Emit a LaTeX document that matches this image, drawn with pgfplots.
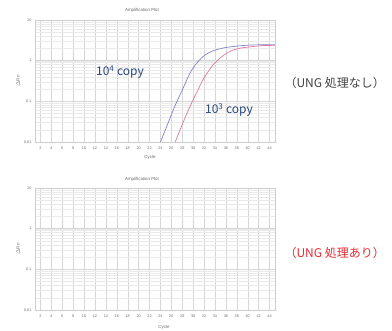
\documentclass[border=0pt]{standalone}
\usepackage{pgfplots}
\pgfplotsset{compat=1.18}
\usepackage{fontspec}
\setmainfont{Liberation Sans}
\newfontfamily\jp{Noto Sans CJK JP}
\definecolor{gridc}{RGB}{234,234,234}
\definecolor{gridm}{RGB}{214,214,214}
\definecolor{axc}{RGB}{205,205,205}
\definecolor{tickc}{RGB}{105,105,105}
\definecolor{bluec}{RGB}{130,130,200}
\definecolor{pinkc}{RGB}{222,120,160}
\definecolor{labc}{RGB}{40,70,120}
\definecolor{redt}{RGB}{235,40,50}
\pgfplotsset{
  qpcr/.style={
    scale only axis, width=240pt, height=122pt,
    anchor=south west,
    xmin=1, xmax=45, ymin=0.01, ymax=10,
    xtick={2,4,...,44},
    ytick={0.01,0.1,1,10},
    yticklabels={0.01,0.1,1,10},
    grid=both,
    major grid style={draw=gridm, line width=0.4pt},
    minor grid style={draw=gridc, line width=0.3pt},
    axis line style={draw=axc},
    tick style={draw=none},
    ticklabel style={font=\fontsize{3.8}{4}\selectfont, text=tickc},
    /pgf/number format/assume math mode=true,
    xticklabel style={yshift=-1pt},
    clip=true,
  }
}
\begin{document}
\begin{tikzpicture}
\useasboundingbox (0,0) rectangle (392pt,331pt);
% top
\begin{semilogyaxis}[qpcr, at={(35pt,189pt)}]
\addplot[bluec, line width=0.7pt, smooth] coordinates {
(23.6,0.0075) (24,0.01) (25.3,0.027) (26.6,0.074) (28,0.19) (29.4,0.49) (30.6,0.85) (31.8,1.26) (32.8,1.55) (33.9,1.8) (35.5,2.05) (37,2.2) (39,2.35) (40.6,2.43) (43,2.46) (45,2.47)};
\addplot[pinkc, line width=0.7pt, smooth] coordinates {
(26.3,0.0075) (26.7,0.01) (28,0.027) (29.4,0.074) (30.6,0.16) (31.8,0.34) (32.8,0.55) (33.9,0.86) (35.4,1.3) (37,1.76) (38.8,2.05) (40.6,2.2) (42,2.3) (43,2.36) (45,2.38)};
\end{semilogyaxis}
% bottom
\begin{semilogyaxis}[qpcr, at={(35pt,21pt)}]
\addplot[draw=none] coordinates {(1,0.01)};
\end{semilogyaxis}
% small texts
\node[font=\fontsize{4.4}{5}\selectfont, text=tickc] at (142pt,321pt) {Amplification Plot};
\node[font=\fontsize{4.4}{5}\selectfont, text=tickc] at (150pt,174pt) {Cycle};
\node[font=\fontsize{4.4}{5}\selectfont, text=tickc, rotate=90] at (18pt,250pt) {$\Delta$Rn};
\node[font=\fontsize{4.4}{5}\selectfont, text=tickc] at (142pt,152pt) {Amplification Plot};
\node[font=\fontsize{4.4}{5}\selectfont, text=tickc] at (164pt,4pt) {Cycle};
\node[font=\fontsize{4.4}{5}\selectfont, text=tickc, rotate=90] at (18pt,82pt) {$\Delta$Rn};
% big labels
\node[font=\jp\fontsize{12}{14}\selectfont, text=labc] at (120pt,259pt) {10\textsuperscript{4} copy};
\node[font=\jp\fontsize{12}{14}\selectfont, text=labc] at (229pt,221pt) {10\textsuperscript{3} copy};
\node[font=\jp\fontsize{12}{14}\selectfont, text=black!75, anchor=west] at (281pt,248pt) {（UNG 処理なし）};
\node[font=\jp\fontsize{12}{14}\selectfont, text=redt, anchor=west] at (281pt,78pt) {（UNG 処理あり）};
\end{tikzpicture}
\end{document}
